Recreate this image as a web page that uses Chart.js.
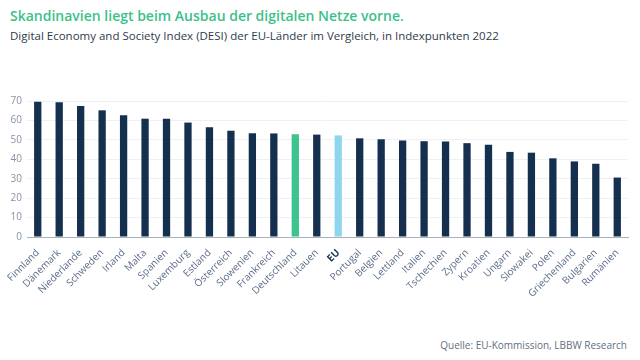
<!DOCTYPE html>
<html lang="de">
<head>
    <meta charset="UTF-8">
    <title>DESI 2022</title>
    <script src="https://cdn.jsdelivr.net/npm/chart.js"></script>
    <style>
        body { margin: 0; width: 640px; height: 360px; background: #fff; font-family: "Open Sans", sans-serif; position: relative; overflow: hidden; }
        h1 { position: absolute; left: 10px; top: 6px; margin: 0; font-size: 14px; font-weight: 600; color: #3dbf8a; }
        h2 { position: absolute; left: 10px; top: 28px; margin: 0; font-size: 11.5px; font-weight: 400; color: #2f3b4c; }
        .wrap { position: absolute; left: 0; top: 90px; width: 640px; height: 210px; }
        .src { position: absolute; right: 13px; top: 338px; font-size: 10px; color: #5f6f80; }
    </style>
</head>
<body>
    <h1>Skandinavien liegt beim Ausbau der digitalen Netze vorne.</h1>
    <h2>Digital Economy and Society Index (DESI) der EU-Länder im Vergleich, in Indexpunkten 2022</h2>
    <div class="wrap"><canvas id="chart"></canvas></div>
    <div class="src">Quelle: EU-Kommission, LBBW Research</div>
    <script>
        const countries = ["Finnland", "Dänemark", "Niederlande", "Schweden", "Irland", "Malta", "Spanien", "Luxemburg", "Estland", "Österreich", "Slowenien", "Frankreich", "Deutschland", "Litauen", "EU", "Portugal", "Belgien", "Lettland", "Italien", "Tschechien", "Zypern", "Kroatien", "Ungarn", "Slowakei", "Polen", "Griechenland", "Bulgarien", "Rumänien"];
        const desi = [69.6, 69.3, 67.4, 65.2, 62.7, 60.9, 60.8, 58.9, 56.5, 54.7, 53.4, 53.3, 52.9, 52.7, 52.3, 50.8, 50.3, 49.7, 49.3, 49.1, 48.3, 47.5, 43.8, 43.4, 40.5, 38.9, 37.7, 30.6];
        const yTicks = [0, 10, 20, 30, 40, 50, 60, 70];

        const barColors = countries.map(c => c === "Deutschland" ? "#3cc48f" : c === "EU" ? "#8fd5ee" : "#15304f");

        new Chart(document.getElementById("chart"), {
            type: "bar",
            data: {
                labels: countries,
                datasets: [{ data: desi, backgroundColor: barColors, barPercentage: 0.68, categoryPercentage: 0.5 }]
            },
            options: {
                responsive: true,
                maintainAspectRatio: false,
                animation: false,
                layout: { padding: { top: 4, right: 12, left: 0, bottom: 0 } },
                plugins: { legend: { display: false }, tooltip: { enabled: false } },
                scales: {
                    x: {
                        grid: { display: false },
                        border: { color: "#a7b1bd" },
                        afterFit: s => { s.height = 63; },
                        ticks: {
                            minRotation: 45, maxRotation: 45, autoSkip: false, padding: 2,
                            color: ctx => countries[ctx.index] === "EU" ? "#15304f" : "#5b6d88",
                            font: ctx => ({ family: "Open Sans", size: 10, weight: countries[ctx.index] === "EU" ? "bold" : "normal" })
                        }
                    },
                    y: {
                        min: 0, max: 70,
                        afterFit: s => { s.width = 27; },
                        afterBuildTicks: s => { s.ticks = yTicks.map(v => ({ value: v })); },
                        grid: { color: "#eef0f3", drawTicks: false },
                        border: { display: false },
                        ticks: { color: "#8494a6", padding: 5, font: { family: "Open Sans", size: 10 } }
                    }
                }
            }
        });
    </script>
</body>
</html>
